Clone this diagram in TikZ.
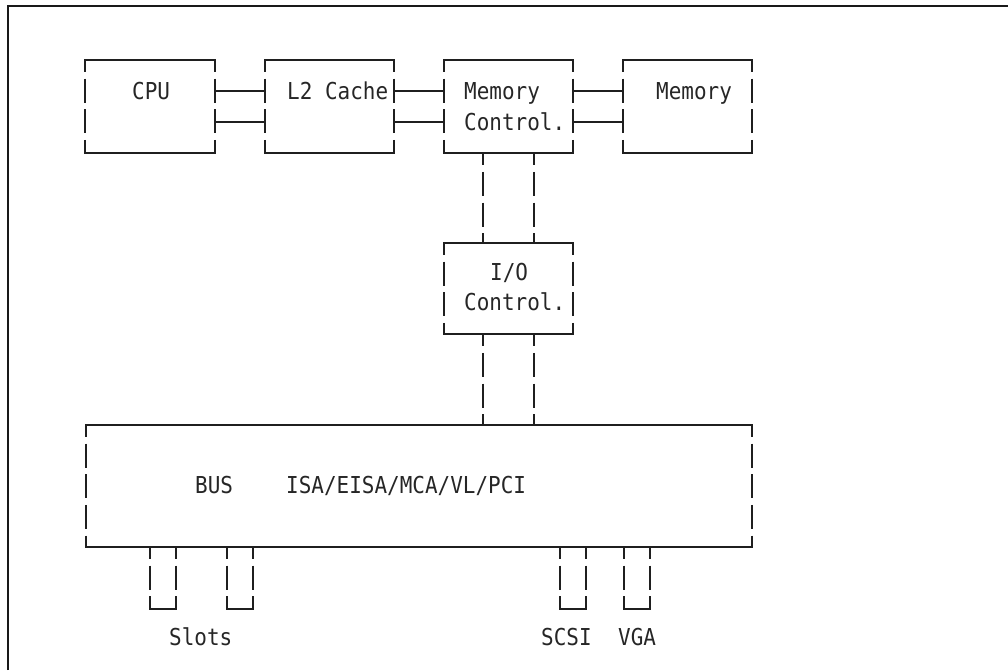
\documentclass[tikz,border=0pt]{standalone}
\usepackage{fontspec}
\newfontfamily\asciifont[FakeStretch=0.9]{DejaVu Sans Mono}
\tikzset{
  hl/.style={draw=black!88, line width=1.7pt, line cap=rect},
  vl/.style={draw=black!88, line width=1.7pt, dash pattern=on 24pt off 6.7pt, dash phase=12pt},
  frame/.style={draw=black!90, line width=2pt},
  boxn/.style={inner sep=0pt, minimum width=129pt, minimum height=93pt},
  txt/.style={inner sep=0pt, anchor=base west, text=black!85, font=\asciifont\fontsize{23.3}{28}\selectfont},
  slotn/.style={inner sep=0pt, minimum width=26pt, minimum height=62pt}
}
\newcommand\asciibox[1]{%
  \draw[hl] (#1.north west) -- (#1.north east) (#1.south west) -- (#1.south east);
  \draw[vl] (#1.north west) -- (#1.south west) (#1.north east) -- (#1.south east);}
\newcommand\asciislot[1]{%
  \draw[hl] (#1.south west) -- (#1.south east);
  \draw[vl] (#1.north west) -- (#1.south west) (#1.north east) -- (#1.south east);}
\begin{document}
\begin{tikzpicture}[x=1pt,y=-1pt]
\useasboundingbox (0,0) rectangle (1008,670);
% outer frame
\coordinate (fbl) at (8,670);
\coordinate (ftl) at (8,6);
\coordinate (ftr) at (1008,6);
\draw[frame] (fbl) -- (ftl) -- (ftr);
% boxes
\node[boxn] (cpu) at (150,106.5) {};
\node[boxn] (l2) at (329.5,106.5) {};
\node[boxn] (mc) at (508.5,106.5) {};
\node[boxn] (mem) at (687.5,106.5) {};
\node[boxn, minimum height=91pt] (io) at (508.5,288.5) {};
\node[inner sep=0pt, minimum width=666pt, minimum height=122pt] (bus) at (419,486) {};
\node[slotn] (s1) at (163,578) {};
\node[slotn] (s2) at (240,578) {};
\node[slotn] (s3) at (573,578) {};
\node[slotn] (s4) at (637,578) {};
\asciibox{cpu}\asciibox{l2}\asciibox{mc}\asciibox{mem}\asciibox{io}\asciibox{bus}
\asciislot{s1}\asciislot{s2}\asciislot{s3}\asciislot{s4}
% horizontal connectors
\foreach \a/\b in {cpu/l2, l2/mc, mc/mem}{
  \draw[hl, line cap=butt] ([yshift=15.5pt]\a.east) -- ([yshift=15.5pt]\b.west);
  \draw[hl, line cap=butt] ([yshift=-15.5pt]\a.east) -- ([yshift=-15.5pt]\b.west);
}
% vertical connectors
\foreach \s in {-25.5,25.5}{
  \draw[vl] ([xshift=\s pt]mc.south) -- ([xshift=\s pt]io.north);
  \draw[vl] ([xshift=\s pt]io.south) -- ([xshift=\s pt]io.south |- bus.north);
}
% texts
\node[txt] (tcpu) at (132,99) {CPU};
\node[txt] (tl2) at (287,99) {L2 Cache};
\node[txt] (tmc1) at (464,99) {Memory};
\node[txt] (tmc2) at (464,130) {Control.};
\node[txt] (tmem) at (656,99) {Memory};
\node[txt] (tio1) at (490,280.5) {I/O};
\node[txt] (tio2) at (464,310.5) {Control.};
\node[txt] (tbus) at (195,493) {BUS};
\node[txt] (tisa) at (286,493) {ISA/EISA/MCA/VL/PCI};
\node[txt] (tslots) at (169,645) {Slots};
\node[txt] (tscsi) at (541,645) {SCSI};
\node[txt] (tvga) at (618,645) {VGA};
\end{tikzpicture}
\end{document}
